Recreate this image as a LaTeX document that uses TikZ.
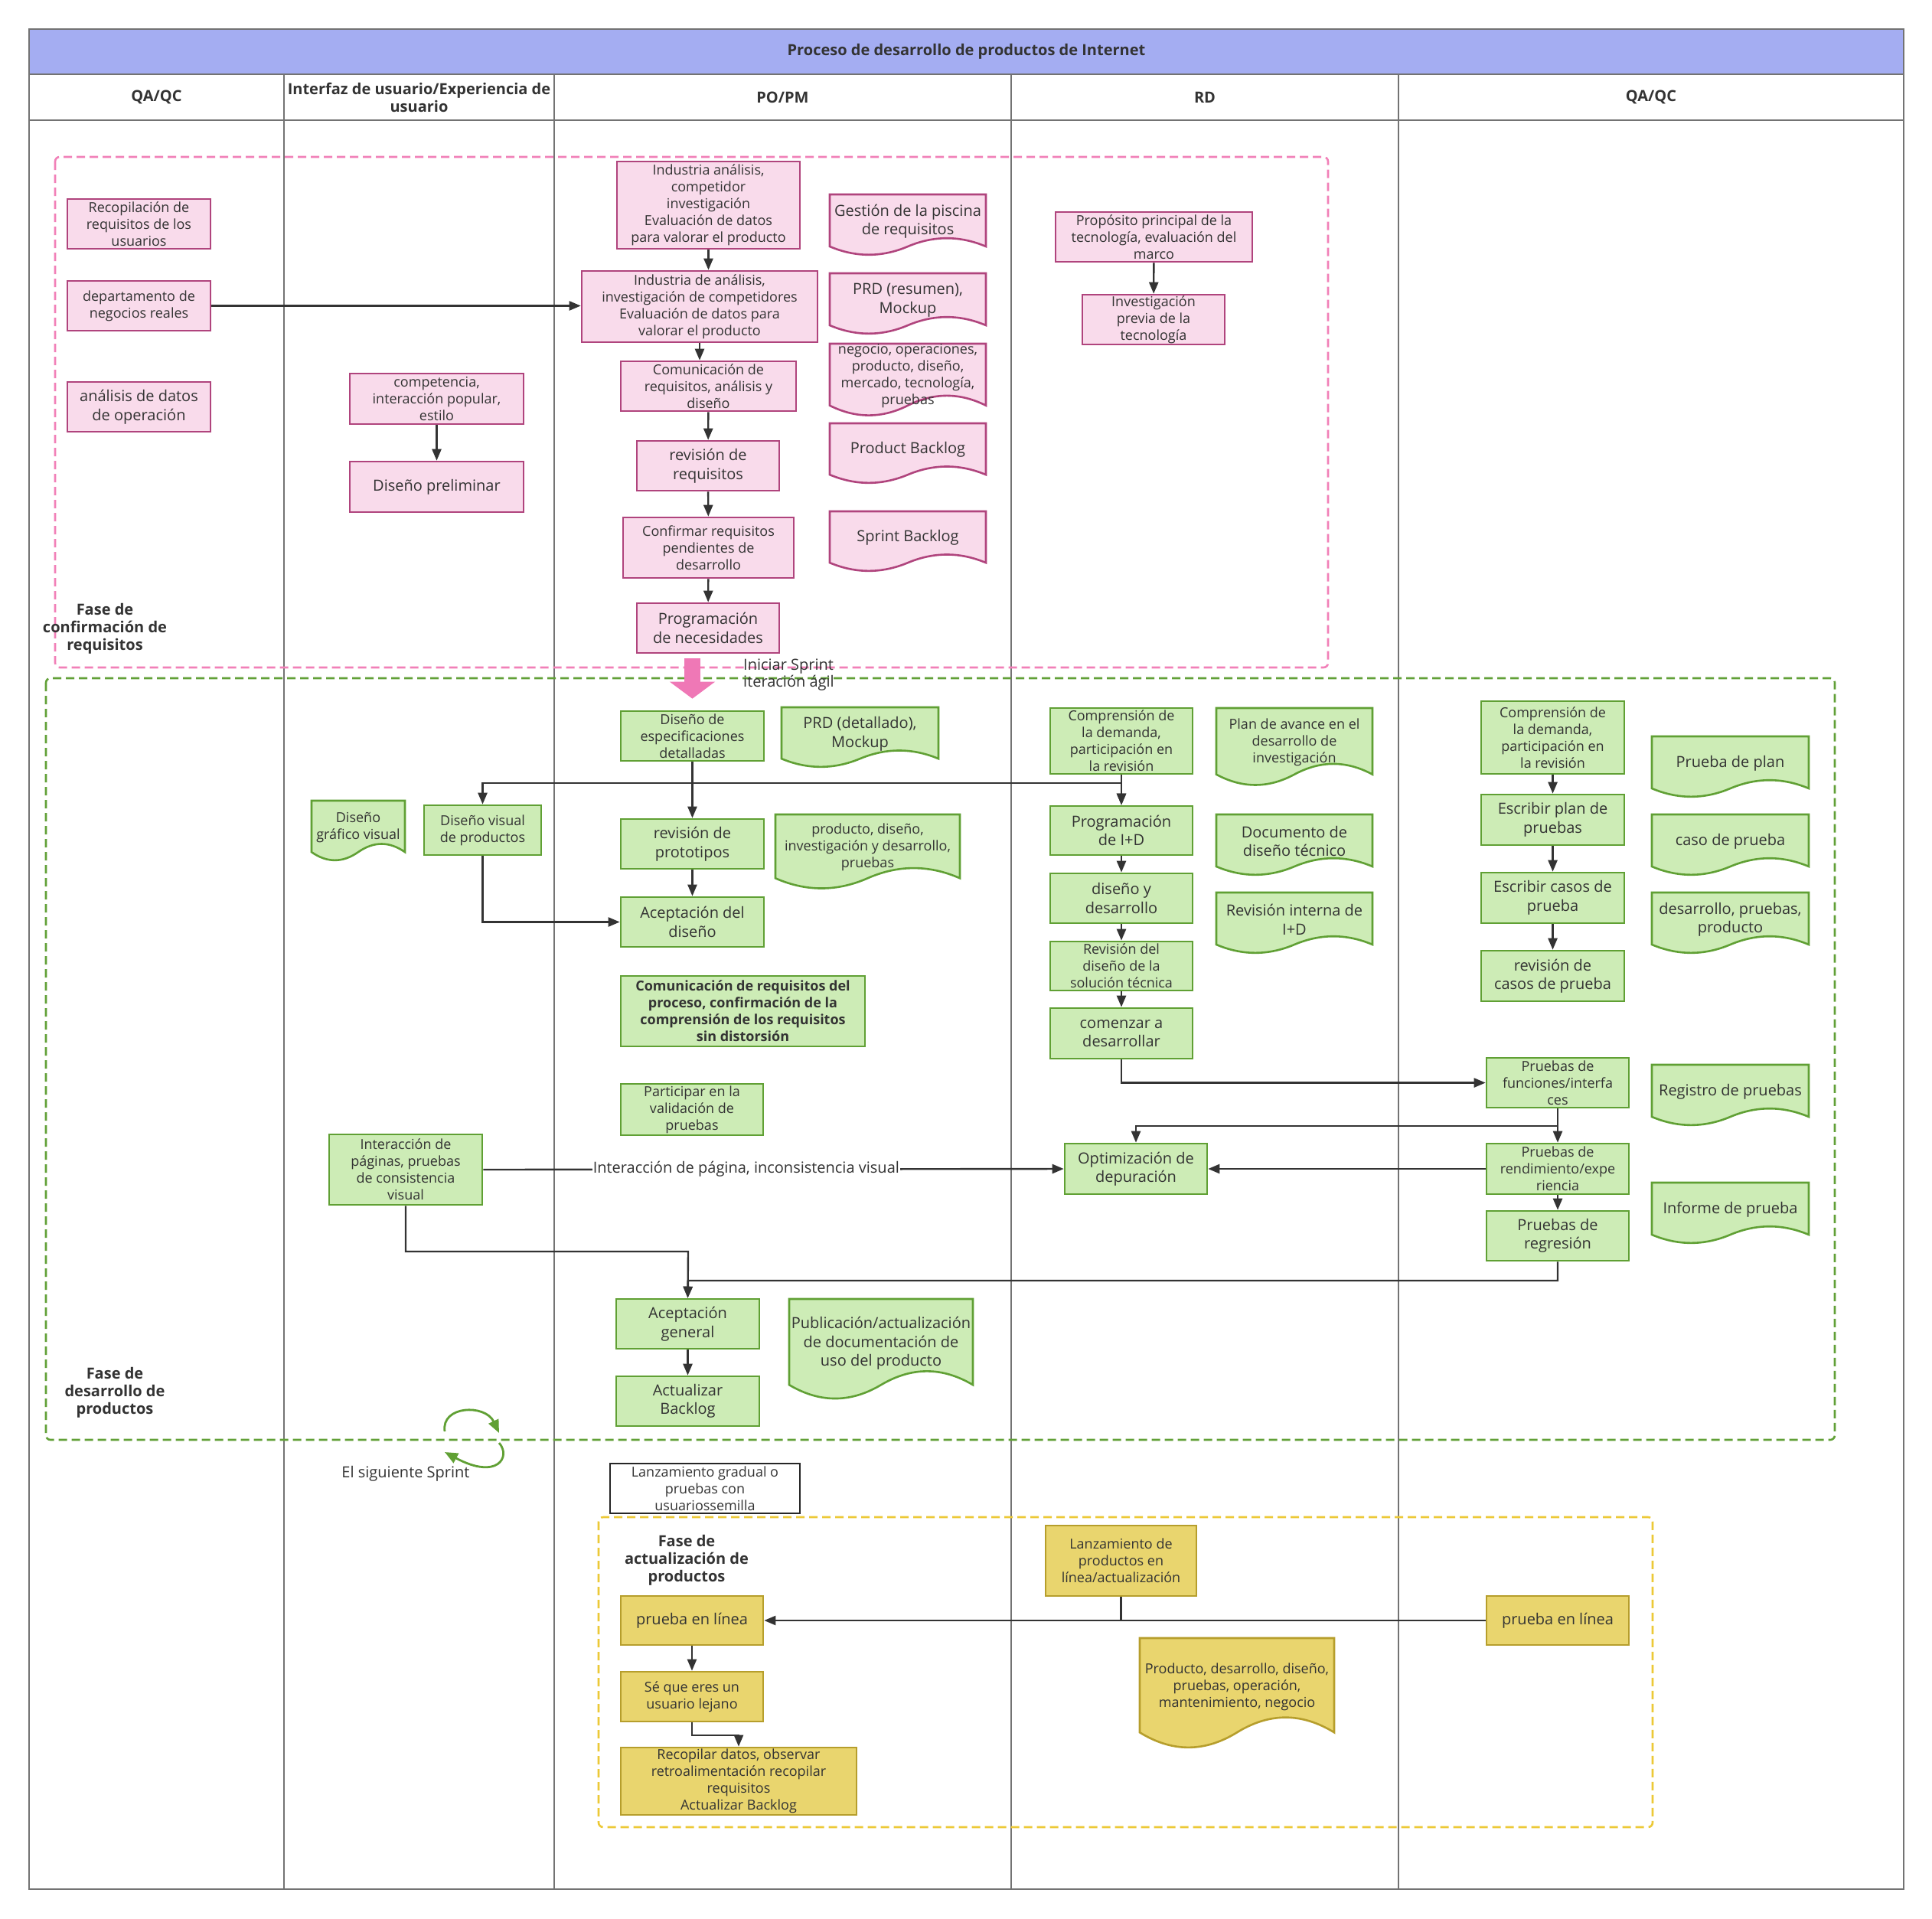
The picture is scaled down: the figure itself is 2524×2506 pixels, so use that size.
\documentclass[tikz,border=0pt]{standalone}
\usepackage{fontspec}
\setmainfont{Open Sans}
\usetikzlibrary{arrows.meta,calc}
\definecolor{txt}{RGB}{51,51,51}
\definecolor{pkf}{RGB}{249,219,235}
\definecolor{pkd}{RGB}{176,68,125}
\definecolor{grf}{RGB}{205,236,182}
\definecolor{grd}{RGB}{96,160,52}
\definecolor{ylf}{RGB}{233,213,110}
\definecolor{yld}{RGB}{182,158,44}
\definecolor{phpk}{RGB}{241,128,184}
\definecolor{phgr}{RGB}{97,160,55}
\definecolor{phyl}{RGB}{236,201,55}
\definecolor{pkar}{RGB}{239,120,182}
\definecolor{cn}{RGB}{51,51,51}
\definecolor{ln}{RGB}{115,115,115}
\definecolor{titlef}{RGB}{164,173,242}
\newcommand\fA{\fontsize{18}{22}\selectfont}
\newcommand\fB{\fontsize{20}{24.5}\selectfont}
\newcommand\fH{\fontsize{20}{23}\selectfont\bfseries}
\tikzset{
  box/.style={rectangle, line width=2.6pt, align=center, inner sep=1pt, text=txt},
  pkbox/.style={box, draw=pkd, fill=pkf},
  grbox/.style={box, draw=grd, fill=grf},
  ylbox/.style={box, draw=yld, fill=ylf},
  wtbox/.style={box, draw=black!85, fill=white, line width=2pt},
  pkdoc/.style={draw=pkd, fill=pkf, line width=2.6pt},
  grdoc/.style={draw=grd, fill=grf, line width=2.6pt},
  yldoc/.style={draw=yld, fill=ylf, line width=2.6pt},
  doctxt/.style={align=center, inner sep=0pt, text=txt},
  arr/.style={draw=cn, line width=2.4pt, -{Triangle[length=15pt,width=12pt]}},
  conn/.style={draw=cn, line width=2.4pt},
  lane/.style={draw=ln, line width=2pt},
  phase/.style={line width=2.6pt, dash pattern=on 11pt off 6pt, rounded corners=6pt},
  lbl/.style={align=center, text=txt, inner sep=0pt},
  garr/.style={draw=grd, line width=2.8pt, -{Triangle[length=17pt,width=14pt]}},
}
\newcommand\bx[7]{\node[#1, minimum width={(#5-#3)*1pt}, minimum height={(#6-#4)*1pt}] (#2) at ({(#3+#5)/2},{(#4+#6)/2}) {#7};}
\newcommand\docu[8]{%
  \path[#1] (#4,#5) -- (#6,#5) -- (#6,{#7-0.15*(#7-#5)})
    .. controls ({#6-(#6-#4)/6},{#7-0.33*(#7-#5)}) and ({(#4+#6)/2+(#6-#4)/6},{#7-0.33*(#7-#5)}) .. ({(#4+#6)/2},{#7-0.15*(#7-#5)})
    .. controls ({(#4+#6)/2-(#6-#4)/6},{#7+0.03*(#7-#5)}) and ({#4+(#6-#4)/6},{#7+0.03*(#7-#5)}) .. (#4,{#7-0.15*(#7-#5)}) -- cycle;
  \node[doctxt, font=#2] (#3) at ({(#4+#6)/2},{#5+0.44*(#7-#5)}) {#8};}
\begin{document}
\begin{tikzpicture}[x=1pt, y=-1pt]
\useasboundingbox (0,0) rectangle (2524,2506);
\fill[white] (0,0) rectangle (2524,2506);
% frame and lanes
\fill[titlef] (38,38) rectangle (2487,97);
\draw[lane] (38,38) rectangle (2487,2468);
\draw[lane] (38,97) -- (2487,97);
\draw[lane] (38,157) -- (2487,157);
\foreach \xx in {371,724,1321,1827} {\draw[lane] (\xx,97) -- (\xx,2468);}
\node[lbl, font=\fH] (title) at (1262.5,67.5) {Proceso de desarrollo de productos de Internet};
\node[lbl, font=\fH] (h1) at (204.5,127) {QA/QC};
\node[lbl, font=\fH] (h2) at (547.5,127) {Interfaz de usuario/Experiencia de\\usuario};
\node[lbl, font=\fH] (h3) at (1022.5,127) {PO/PM};
\node[lbl, font=\fH] (h4) at (1574,127) {RD};
\node[lbl, font=\fH] (h5) at (2157,127) {QA/QC};
% phase boxes
\draw[phase, draw=phpk] (72,205) rectangle (1735,872);
\draw[phase, draw=phgr] (60,886) rectangle (2397,1881);
\draw[phase, draw=phyl] (782,1982) rectangle (2159,2387);
\node[lbl, font=\fH] (ph1) at (137,821.5) {Fase de\\confirmación de\\requisitos};
\node[lbl, font=\fH] (ph2) at (150,1819.5) {Fase de\\desarrollo de\\productos};
\node[lbl, font=\fH] (ph3) at (897,2038) {Fase de\\actualización de\\productos};
% ---------- pink nodes
\bx{pkbox,font=\fA}{rec}{88}{260}{275}{325}{Recopilación de\\requisitos de los\\usuarios}
\bx{pkbox,font=\fA}{dep}{88}{367}{275}{432}{departamento de\\negocios reales}
\bx{pkbox,font=\fB}{ana}{88}{499}{275}{564}{análisis de datos\\de operación}
\bx{pkbox,font=\fA}{comp}{457}{488}{684}{554}{competencia,\\interacción popular,\\estilo}
\bx{pkbox,font=\fB}{dpre}{457}{603}{684}{669}{Diseño preliminar}
\bx{pkbox,font=\fA}{ind1}{806}{211}{1045}{325}{Industria análisis,\\competidor\\investigación\\Evaluación de datos\\para valorar el producto}
\bx{pkbox,font=\fA}{ind2}{760}{354}{1068}{447}{Industria de análisis,\\investigación de competidores\\Evaluación de datos para\\valorar el producto}
\bx{pkbox,font=\fA}{com}{811}{472}{1040}{537}{Comunicación de\\requisitos, análisis y\\diseño}
\bx{pkbox,font=\fB}{rreq}{832}{576}{1018}{641}{revisión de\\requisitos}
\bx{pkbox,font=\fA}{conf}{814}{676}{1037}{755}{Confirmar requisitos\\pendientes de\\desarrollo}
\bx{pkbox,font=\fB}{pnec}{832}{788}{1018}{853}{Programación\\de necesidades}
\bx{pkbox,font=\fA}{prop}{1379}{277}{1636}{342}{Propósito principal de la\\tecnología, evaluación del\\marco}
\bx{pkbox,font=\fA}{inv}{1414}{385}{1600}{450}{Investigación\\previa de la\\tecnología}
\docu{pkdoc}{\fB}{gest}{1084}{254}{1288}{334}{Gestión de la piscina\\de requisitos}
\docu{pkdoc}{\fB}{prdr}{1084}{357}{1288}{437}{PRD (resumen),\\Mockup}
\docu{pkdoc}{\fA}{nego}{1084}{449}{1288}{544}{negocio, operaciones,\\producto, diseño,\\mercado, tecnología,\\pruebas}
\docu{pkdoc}{\fB}{pback}{1084}{553}{1288}{632}{Product Backlog}
\docu{pkdoc}{\fB}{sback}{1084}{668}{1288}{747}{Sprint Backlog}
% ---------- green nodes
\bx{grbox,font=\fA}{dspec}{811}{929}{998}{994}{Diseño de\\especificaciones\\detalladas}
\bx{grbox,font=\fB}{rproto}{811}{1070}{998}{1135}{revisión de\\prototipos}
\bx{grbox,font=\fB}{adis}{811}{1172}{998}{1237}{Aceptación del\\diseño}
\bx{grbox,font=\fA\bfseries}{comreq}{811}{1275}{1130}{1367}{Comunicación de requisitos del\\proceso, confirmación de la\\comprensión de los requisitos\\sin distorsión}
\bx{grbox,font=\fA}{part}{811}{1416}{997}{1483}{Participar en la\\validación de\\pruebas}
\bx{grbox,font=\fA}{visp}{554}{1052}{707}{1117}{Diseño visual\\de productos}
\bx{grbox,font=\fA}{inter}{430}{1482}{630}{1574}{Interacción de\\páginas, pruebas\\de consistencia\\visual}
\bx{grbox,font=\fB}{agen}{805}{1697}{992}{1762}{Aceptación\\general}
\bx{grbox,font=\fB}{aback}{805}{1798}{992}{1863}{Actualizar\\Backlog}
\bx{grbox,font=\fA}{rdcomp}{1372}{925}{1558}{1011}{Comprensión de\\la demanda,\\participación en\\la revisión}
\bx{grbox,font=\fB}{pid}{1372}{1053}{1558}{1117}{Programación\\de I+D}
\bx{grbox,font=\fB}{dyd}{1372}{1141}{1558}{1206}{diseño y\\desarrollo}
\bx{grbox,font=\fA}{rsol}{1372}{1230}{1558}{1294}{Revisión del\\diseño de la\\solución técnica}
\bx{grbox,font=\fB}{cdes}{1372}{1317}{1558}{1383}{comenzar a\\desarrollar}
\bx{grbox,font=\fB}{opt}{1391}{1494}{1577}{1560}{Optimización de\\depuración}
\bx{grbox,font=\fA}{qcomp}{1935}{916}{2122}{1011}{Comprensión de\\la demanda,\\participación en\\la revisión}
\bx{grbox,font=\fB}{wplan}{1935}{1038}{2122}{1104}{Escribir plan de\\pruebas}
\bx{grbox,font=\fB}{wcase}{1935}{1140}{2122}{1206}{Escribir casos de\\prueba}
\bx{grbox,font=\fB}{rcase}{1935}{1242}{2122}{1308}{revisión de\\casos de prueba}
\bx{grbox,font=\fA}{func}{1942}{1382}{2128}{1447}{Pruebas de\\funciones/interfa\\ces}
\bx{grbox,font=\fA}{rend}{1942}{1494}{2128}{1560}{Pruebas de\\rendimiento/expe\\riencia}
\bx{grbox,font=\fB}{regr}{1942}{1582}{2128}{1647}{Pruebas de\\regresión}
\docu{grdoc}{\fB}{prdd}{1021}{924}{1226}{1003}{PRD (detallado),\\Mockup}
\docu{grdoc}{\fA}{pdid}{1013}{1064}{1254}{1162}{producto, diseño,\\investigación y desarrollo,\\pruebas}
\docu{grdoc}{\fA}{dgv}{407}{1046}{529}{1125}{Diseño\\gráfico visual}
\docu{grdoc}{\fB}{pub}{1031}{1697}{1271}{1829}{Publicación/actualización\\de documentación de\\uso del producto}
\docu{grdoc}{\fA}{plan}{1589}{925}{1793}{1027}{Plan de avance en el\\desarrollo de\\investigación}
\docu{grdoc}{\fB}{dtec}{1589}{1064}{1793}{1144}{Documento de\\diseño técnico}
\docu{grdoc}{\fB}{rint}{1589}{1166}{1793}{1246}{Revisión interna de\\I+D}
\docu{grdoc}{\fB}{pplan}{2158}{962}{2363}{1042}{Prueba de plan}
\docu{grdoc}{\fB}{cprue}{2158}{1064}{2363}{1144}{caso de prueba}
\docu{grdoc}{\fB}{dpp}{2158}{1166}{2363}{1246}{desarrollo, pruebas,\\producto}
\docu{grdoc}{\fB}{regp}{2158}{1391}{2363}{1471}{Registro de pruebas}
\docu{grdoc}{\fB}{infp}{2158}{1545}{2363}{1625}{Informe de prueba}
% ---------- yellow / release nodes
\bx{wtbox,font=\fA}{lanzg}{797}{1912}{1045}{1977}{Lanzamiento gradual o\\pruebas con\\usuariossemilla}
\bx{ylbox,font=\fB}{pl1}{811}{2085}{997}{2149}{prueba en línea}
\bx{ylbox,font=\fA}{sque}{811}{2184}{997}{2249}{Sé que eres un\\usuario lejano}
\bx{ylbox,font=\fA}{recop}{811}{2283}{1119}{2371}{Recopilar datos, observar\\retroalimentación recopilar\\requisitos\\Actualizar Backlog}
\bx{ylbox,font=\fA}{lanz}{1366}{1993}{1563}{2085}{Lanzamiento de\\productos en\\línea/actualización}
\bx{ylbox,font=\fB}{pl2}{1942}{2085}{2128}{2149}{prueba en línea}
\docu{yldoc}{\fA}{ydoc}{1489}{2140}{1743}{2285}{Producto, desarrollo, diseño,\\pruebas, operación,\\mantenimiento, negocio}
% ---------- connectors
\draw[arr] (ind1.south) -- (ind1.south |- ind2.north);
\draw[arr] (ind2.south) -- (ind2.south |- com.north);
\draw[arr] (com) -- (rreq);
\draw[arr] (rreq) -- (conf);
\draw[arr] (conf) -- (pnec);
\draw[arr] (dep.east) -- (dep.east -| ind2.west);
\draw[arr] (comp) -- (dpre);
\draw[arr] (prop) -- (inv);
\draw[draw=pkar, line width=21pt, -{Triangle[length=22pt,width=58pt]}] ($(dspec.north |- pnec.south)+(0,6)$) -- ($(dspec.north)+(0,-15)$);
\node[lbl, font=\fontsize{20}{22}\selectfont, anchor=west, align=left] (isprint) at (971,882) {Iniciar Sprint\\iteración ágil};
\coordinate (hb) at (904,1023);
\draw[arr] (dspec) -- (rproto);
\draw[arr] (hb) -| (visp.north);
\draw[arr] (hb) -| (pid.north);
\draw[arr] (rproto) -- (adis);
\draw[arr] (visp.south) |- (adis.west);
\draw[arr] (inter.east) -- (opt.west) node[pos=0.453, fill=white, inner sep=1pt, text=txt, font=\fB] (ilbl) {Interacción de página, inconsistencia visual};
\coordinate (c1) at (899,1635);
\coordinate (c2) at (899,1673);
\draw[arr] (inter.south) |- (c1) -- (agen.north);
\draw[arr] (regr.south) |- (c2) -- (agen.north);
\draw[arr] (agen) -- (aback);
\draw[arr] (rdcomp) -- (pid);
\draw[arr] (pid) -- (dyd);
\draw[arr] (dyd) -- (rsol);
\draw[arr] (rsol) -- (cdes);
\draw[arr] (cdes.south) |- (func.west);
\coordinate (c3) at (2035,1471);
\draw[arr] (func) -- (rend);
\draw[arr] (c3) -| (opt.north);
\draw[arr] (rend.west) -- (opt.east);
\draw[arr] (rend) -- (regr);
\draw[arr] (qcomp) -- (wplan);
\draw[arr] (wplan) -- (wcase);
\draw[arr] (wcase) -- (rcase);
\draw[arr] (pl2.west) -- (pl1.east);
\draw[conn] (lanz.south) -- (lanz.south |- pl2.west);
\draw[arr] (pl1) -- (sque);
\draw[arr] (sque.south) -- ++(0,16.5) -| (recop.north);
% next sprint loop
\draw[garr] (581,1870) .. controls (576,1836) and (634,1834) .. (652,1872);
\draw[garr] (652,1885) .. controls (668,1903) and (650,1934) .. (581,1897);
\node[lbl, font=\fB] (nsprint) at (530,1925) {El siguiente Sprint};
\end{tikzpicture}
\end{document}
